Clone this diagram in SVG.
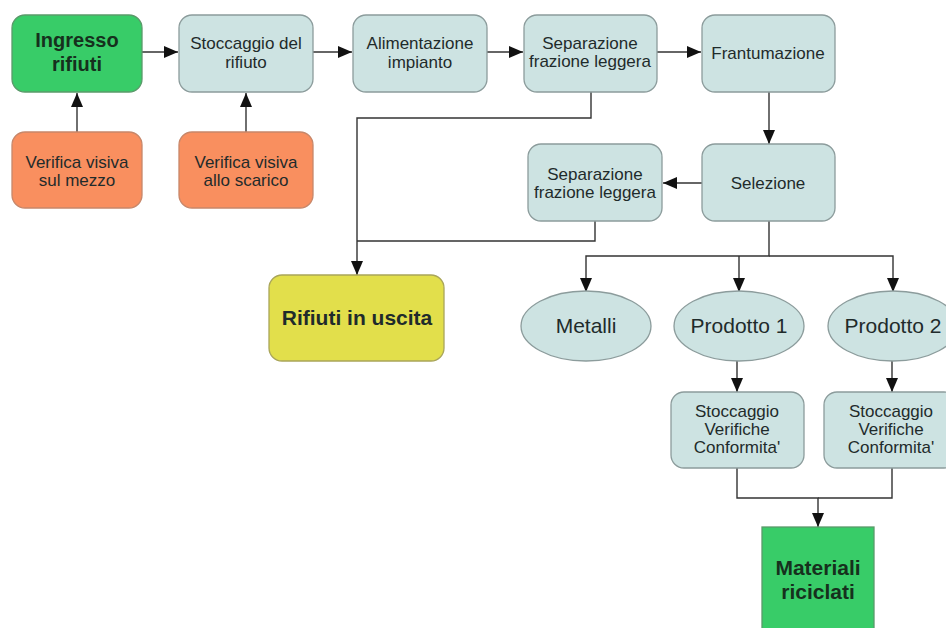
<svg xmlns="http://www.w3.org/2000/svg" width="946" height="628" viewBox="0 0 946 628">
<style>
text{font-family:"Liberation Sans",Arial,sans-serif;fill:#1f2b2b;text-anchor:middle}
.t{font-size:17px}
.b{font-weight:bold}
.g text{fill:#16301d}
.blue{fill:#cde3e2;stroke:#8c9c9c;stroke-width:1.3}
.green{fill:#38cc68;stroke:#5a9a6a;stroke-width:1.3}
.orange{fill:#f98f5f;stroke:#c7876a;stroke-width:1.3}
.yellow{fill:#e2df4b;stroke:#a9a55a;stroke-width:1.3}
.c path{fill:none;stroke:#333;stroke-width:1.4}
</style>
<defs>
<marker id="ah" markerUnits="userSpaceOnUse" markerWidth="15" markerHeight="12" refX="14" refY="6" orient="auto">
<path d="M0,0 L14,6 L0,12 z" fill="#111"/>
</marker>
</defs>
<rect width="946" height="628" fill="#fff"/>
<g class="c">
<path d="M142,52 H178" marker-end="url(#ah)"/>
<path d="M313,52 H352" marker-end="url(#ah)"/>
<path d="M487,52 H523" marker-end="url(#ah)"/>
<path d="M657,52 H701" marker-end="url(#ah)"/>
<path d="M77,132 V93" marker-end="url(#ah)"/>
<path d="M246,132 V93" marker-end="url(#ah)"/>
<path d="M769,92 V144" marker-end="url(#ah)"/>
<path d="M702,183 H663" marker-end="url(#ah)"/>
<path d="M591,92 V118 H357 V275" marker-end="url(#ah)"/>
<path d="M595,221 V241 H357"/>
<path d="M769,221 V256 H586 V292" marker-end="url(#ah)"/>
<path d="M739,256 V292" marker-end="url(#ah)"/>
<path d="M769,256 H893 V292" marker-end="url(#ah)"/>
<path d="M737,361 V392" marker-end="url(#ah)"/>
<path d="M892,361 V392" marker-end="url(#ah)"/>
<path d="M737,468 V498 H818 V527" marker-end="url(#ah)"/>
<path d="M892,468 V498 H818"/>
</g>
<g id="ingresso" class="g"><rect class="green" x="12" y="15" width="130" height="77" rx="13"/><text class="b" font-size="20" x="77" y="47">Ingresso</text><text class="b" font-size="20" x="77" y="71">rifiuti</text></g>
<g id="stoccaggio"><rect class="blue" x="179" y="15" width="134" height="77" rx="13"/><text class="t" x="246" y="49">Stoccaggio del</text><text class="t" x="246" y="68">rifiuto</text></g>
<g id="alimentazione"><rect class="blue" x="353" y="15" width="134" height="77" rx="13"/><text class="t" x="420" y="49">Alimentazione</text><text class="t" x="420" y="68">impianto</text></g>
<g id="separazione1"><rect class="blue" x="524" y="15" width="133" height="77" rx="13"/><text class="t" x="590" y="49">Separazione</text><text class="t" x="590" y="67">frazione leggera</text></g>
<g id="frantumazione"><rect class="blue" x="702" y="15" width="133" height="77" rx="13"/><text class="t" x="768" y="59">Frantumazione</text></g>
<g id="verifica1"><rect class="orange" x="12" y="132" width="130" height="76" rx="13"/><text class="t" x="77" y="168">Verifica visiva</text><text class="t" x="77" y="186">sul mezzo</text></g>
<g id="verifica2"><rect class="orange" x="179" y="132" width="134" height="76" rx="13"/><text class="t" x="246" y="168">Verifica visiva</text><text class="t" x="246" y="186">allo scarico</text></g>
<g id="selezione"><rect class="blue" x="702" y="144" width="133" height="77" rx="13"/><text class="t" x="768" y="189">Selezione</text></g>
<g id="separazione2"><rect class="blue" x="528" y="144" width="134" height="77" rx="13"/><text class="t" x="595" y="180">Separazione</text><text class="t" x="595" y="198">frazione leggera</text></g>
<g id="rifiuti-uscita"><rect class="yellow" x="269" y="275" width="175" height="86" rx="13"/><text class="b" font-size="21" x="357" y="325">Rifiuti in uscita</text></g>
<g id="metalli"><ellipse class="blue" cx="586" cy="326" rx="65" ry="35"/><text font-size="21" x="586" y="333">Metalli</text></g>
<g id="prodotto1"><ellipse class="blue" cx="739" cy="326" rx="65" ry="35"/><text font-size="21" x="739" y="333">Prodotto 1</text></g>
<g id="prodotto2"><ellipse class="blue" cx="893" cy="326" rx="65" ry="35"/><text font-size="21" x="893" y="333">Prodotto 2</text></g>
<g id="stoccaggio-p1"><rect class="blue" x="671" y="392" width="133" height="76" rx="13"/><text class="t" x="737" y="417">Stoccaggio</text><text class="t" x="737" y="435">Verifiche</text><text class="t" x="737" y="453">Conformita'</text></g>
<g id="stoccaggio-p2"><rect class="blue" x="824" y="392" width="133" height="76" rx="13"/><text class="t" x="891" y="417">Stoccaggio</text><text class="t" x="891" y="435">Verifiche</text><text class="t" x="891" y="453">Conformita'</text></g>
<g id="materiali" class="g"><rect class="green" x="762" y="527" width="112" height="110"/><text class="b" font-size="21" x="818" y="575">Materiali</text><text class="b" font-size="21" x="818" y="599">riciclati</text></g>
</svg>
